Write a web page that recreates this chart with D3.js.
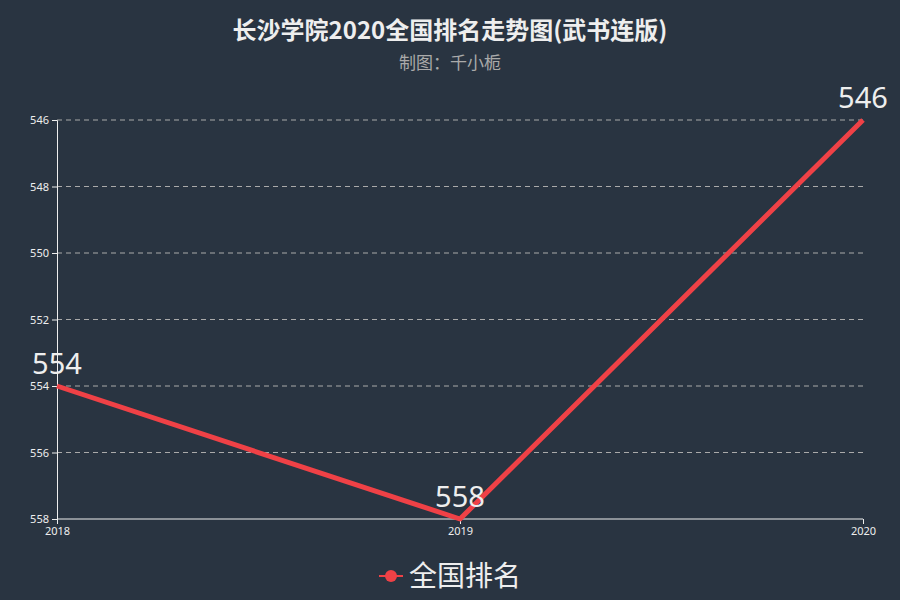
<!DOCTYPE html>
<html>
<head>
<meta charset="utf-8">
<script src="https://cdn.jsdelivr.net/npm/d3@7"></script>
<style>
  html, body { margin: 0; padding: 0; background: #293441; }
  svg { display: block; font-family: "Noto Sans CJK SC", "Noto Sans", sans-serif; }
</style>
</head>
<body>
<div id="chart"></div>
<script>
// chart data
const years = ["2018", "2019", "2020"];
const ranks = [554, 558, 546];
const rankTicks = [546, 548, 550, 552, 554, 556, 558];
const seriesName = "全国排名";
const titleText = "长沙学院2020全国排名走势图(武书连版)";
const subtitleText = "制图：千小栀";

const width = 900, height = 600;
const margin = { top: 120, right: 37, bottom: 81, left: 57 };
const lineColor = "#ef4146";

const svg = d3.select("#chart").append("svg")
    .attr("width", width).attr("height", height);

svg.append("rect").attr("width", width).attr("height", height).attr("fill", "#293441");

const x = d3.scalePoint().domain(years).range([margin.left, width - margin.right]);
const y = d3.scaleLinear().domain([546, 558]).range([margin.top, height - margin.bottom]);

// title
svg.append("text").attr("x", width / 2).attr("y", 39)
    .attr("text-anchor", "middle").attr("fill", "#eeeeee")
    .attr("font-size", 24).attr("font-weight", "bold")
    .text(titleText);
svg.append("text").attr("x", width / 2).attr("y", 69)
    .attr("text-anchor", "middle").attr("fill", "#aaaaaa")
    .attr("font-size", 17)
    .text(subtitleText);

// gridlines
svg.append("g").selectAll("line").data(rankTicks.filter(d => d !== 558)).join("line")
    .attr("x1", margin.left).attr("x2", width - margin.right)
    .attr("y1", d => y(d)).attr("y2", d => y(d))
    .attr("stroke", "#aaaaaa").attr("stroke-width", 1)
    .attr("stroke-dasharray", "5,4");

// y axis
const yAxis = svg.append("g").attr("transform", `translate(${margin.left},0)`)
    .call(d3.axisLeft(y).tickValues(rankTicks).tickSize(5).tickPadding(3));
yAxis.select(".domain").attr("stroke", "#eeeeee");
yAxis.selectAll(".tick line").attr("stroke", "#eeeeee");
yAxis.selectAll(".tick text").attr("fill", "#eeeeee").attr("font-size", 11)
    .attr("font-family", "\"Noto Sans\", sans-serif");

// x axis
const xAxis = svg.append("g").attr("transform", `translate(0,${height - margin.bottom})`)
    .call(d3.axisBottom(x).tickSize(5).tickPadding(3));
xAxis.select(".domain").attr("stroke", "#eeeeee").attr("d", `M${margin.left},0H${width - margin.right}`);
xAxis.selectAll(".tick line").attr("stroke", "#eeeeee");
xAxis.selectAll(".tick text").attr("fill", "#eeeeee").attr("font-size", 11)
    .attr("font-family", "\"Noto Sans\", sans-serif");

// line
const pts = years.map((yr, i) => ({ yr, v: ranks[i] }));
svg.append("path").datum(pts)
    .attr("fill", "none").attr("stroke", lineColor)
    .attr("stroke-width", 5).attr("stroke-linejoin", "round")
    .attr("d", d3.line().x(d => x(d.yr)).y(d => y(d.v)));

// data labels
svg.append("g").selectAll("text").data(pts).join("text")
    .attr("x", d => x(d.yr)).attr("y", d => y(d.v) - 12)
    .attr("text-anchor", "middle").attr("fill", "#eeeeee")
    .attr("font-size", 29).attr("font-family", "\"Noto Sans\", sans-serif")
    .text(d => d.v);

// legend
const lg = svg.append("g").attr("transform", `translate(391,576)`);
lg.append("line").attr("x1", -12).attr("x2", 12).attr("stroke", lineColor).attr("stroke-width", 2);
lg.append("circle").attr("r", 6).attr("fill", lineColor);
lg.append("text").attr("x", 18).attr("y", 10).attr("fill", "#eeeeee")
    .attr("font-size", 28).text(seriesName);
</script>
</body>
</html>
